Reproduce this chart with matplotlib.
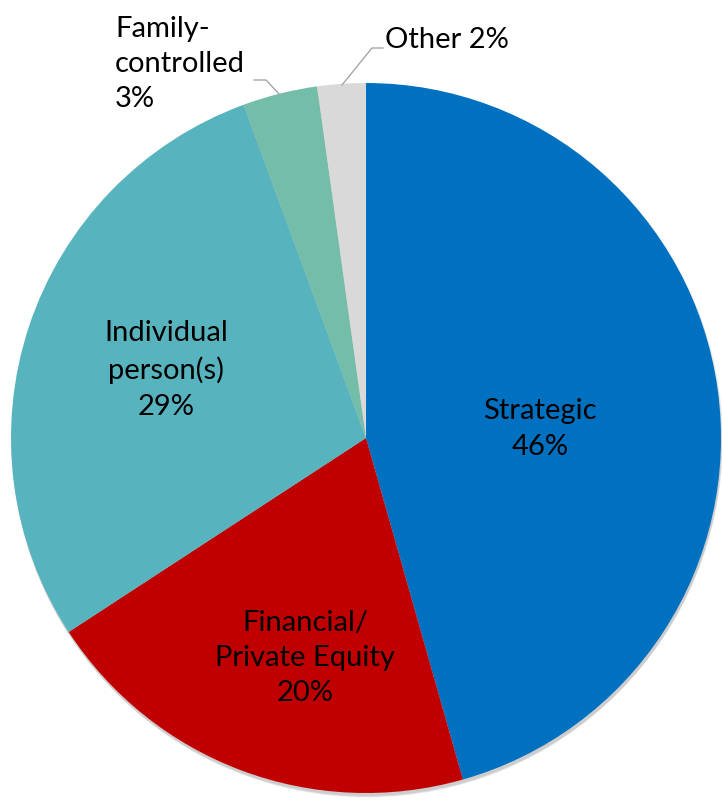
import matplotlib.pyplot as plt
from matplotlib.patches import Circle

# Ownership breakdown (percent)
names = ['Strategic', 'Financial/\nPrivate Equity', 'Individual\nperson(s)', 'Family-\ncontrolled', 'Other']
shares = [45.6, 20.2, 28.6, 3.4, 2.2]
colors = ['#0070C0', '#C00000', '#57B4BE', '#74BDA8', '#D9D9D9']

plt.rcParams['font.family'] = ['Lato', 'DejaVu Sans']

fig = plt.figure(figsize=(7.22, 8), dpi=100)
ax = fig.add_axes([0, 0, 1, 1])

cx, cy, r = 366, 362, 355

# soft drop shadow under the pie
for i in range(4):
    ax.add_patch(Circle((cx + 1, cy - 2 - i), r + 1 - i * 0.5, color='black', alpha=0.05, lw=0, zorder=0))

wedges, _ = ax.pie(shares, colors=colors, startangle=90, counterclock=False,
                   center=(cx, cy), radius=r, frame=True,
                   wedgeprops=dict(linewidth=0))
ax.set_xlim(0, 722)
ax.set_ylim(0, 800)
ax.set_aspect('equal')
ax.axis('off')

pct = [f'{v:.0f}%' for v in shares]
fs = 21
ls = 1.45
ax.text(540, 800 - 429, f'{names[0]}\n{pct[0]}', ha='center', va='center', fontsize=fs, linespacing=ls)
ax.text(305, 800 - 658, f'{names[1]}\n{pct[1]}', ha='center', va='center', fontsize=fs, linespacing=ls)
ax.text(166, 800 - 370, f'{names[2]}\n{pct[2]}', ha='center', va='center', fontsize=fs, linespacing=ls)
ax.text(115, 800 - 64, f'{names[3]}\n{pct[3]}', ha='left', va='center', fontsize=fs, linespacing=ls)
ax.text(385, 800 - 40, f'{names[4]} {pct[4]}', ha='left', va='center', fontsize=fs)

# leader lines for the small slices
ax.plot([280, 266, 254], [800 - 95, 800 - 80, 800 - 80], color='#A6A6A6', lw=1)
ax.plot([342, 372, 383], [800 - 85, 800 - 48, 800 - 48], color='#A6A6A6', lw=1)

fig.savefig('out.png', dpi=100)
